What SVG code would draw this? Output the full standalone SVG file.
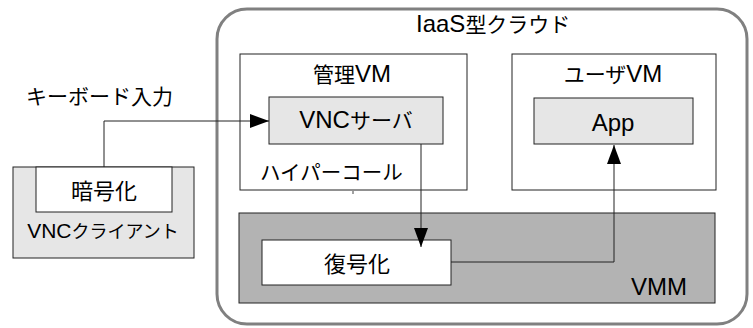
<svg xmlns="http://www.w3.org/2000/svg" width="753" height="328" viewBox="0 0 753 328">
<defs>
<style>
text{font-family:"Liberation Sans","Noto Sans CJK JP",sans-serif;font-size:24px;fill:#000}
.m{text-anchor:middle}
.j{font-size:21px}
.s{font-size:21px}
.s .j{font-size:18px}
.box{stroke:#222;stroke-width:1}
.w{fill:#fff}
.lg{fill:#e6e6e6}
.dg{fill:#b3b3b3}
.con{fill:none;stroke:#222;stroke-width:1}
</style>
<marker id="ah" markerUnits="userSpaceOnUse" markerWidth="20" markerHeight="14" refX="19" refY="7" orient="auto">
<path d="M0,0 L19,7 L0,14 Z" fill="#000"/>
</marker>
</defs>
<rect width="753" height="328" fill="#fff"/>
<g id="cloud">
<rect x="217" y="9" width="530" height="315" rx="30" ry="30" fill="#fff" stroke="#808080" stroke-width="3"/>
<text x="416" y="32">IaaS<tspan class="j">型クラウド</tspan></text>
</g>
<g id="mgmt-vm">
<rect class="box w" x="240" y="54" width="227" height="136"/>
<text class="m" x="352" y="82"><tspan class="j">管理</tspan>VM</text>
<text class="j" x="260" y="180" style="font-size:20.5px">ハイパーコール</text>
<line x1="353" y1="191" x2="353" y2="194" stroke="#444" stroke-width="1"/>
</g>
<g id="vnc-server">
<rect class="box lg" x="269" y="97" width="174" height="47"/>
<text class="m" x="356" y="128">VNC<tspan class="j">サーバ</tspan></text>
</g>
<g id="user-vm">
<rect class="box w" x="512" y="54" width="204" height="136"/>
<text class="m" x="613" y="82"><tspan class="j">ユーザ</tspan>VM</text>
</g>
<g id="app">
<rect class="box lg" x="534" y="98" width="159" height="46"/>
<text class="m" x="613" y="131">App</text>
</g>
<g id="vmm">
<rect class="box dg" x="239" y="213" width="476" height="90"/>
<text x="687" y="295" text-anchor="end">VMM</text>
</g>
<g id="decrypt">
<rect class="box w" x="262" y="240" width="189" height="45"/>
<text class="m" x="357" y="272" style="font-size:22px">復号化</text>
</g>
<g id="vnc-client">
<rect class="box lg" x="13" y="167" width="181" height="91"/>
<text class="s m" x="103" y="238">VNC<tspan class="j">クライアント</tspan></text>
</g>
<g id="encrypt">
<rect class="box w" x="36" y="167" width="136" height="45"/>
<text class="m" x="104" y="199" style="font-size:22px">暗号化</text>
</g>
<g id="keyboard-label">
<text x="26" y="104" style="font-size:21px">キーボード入力</text>
</g>
<g id="connectors">
<path class="con" d="M104,167 V121 H269" marker-end="url(#ah)"/>
<path class="con" d="M421,144 V247" marker-end="url(#ah)"/>
<path class="con" d="M451,262 H614 V145" marker-end="url(#ah)"/>
</g>
</svg>
